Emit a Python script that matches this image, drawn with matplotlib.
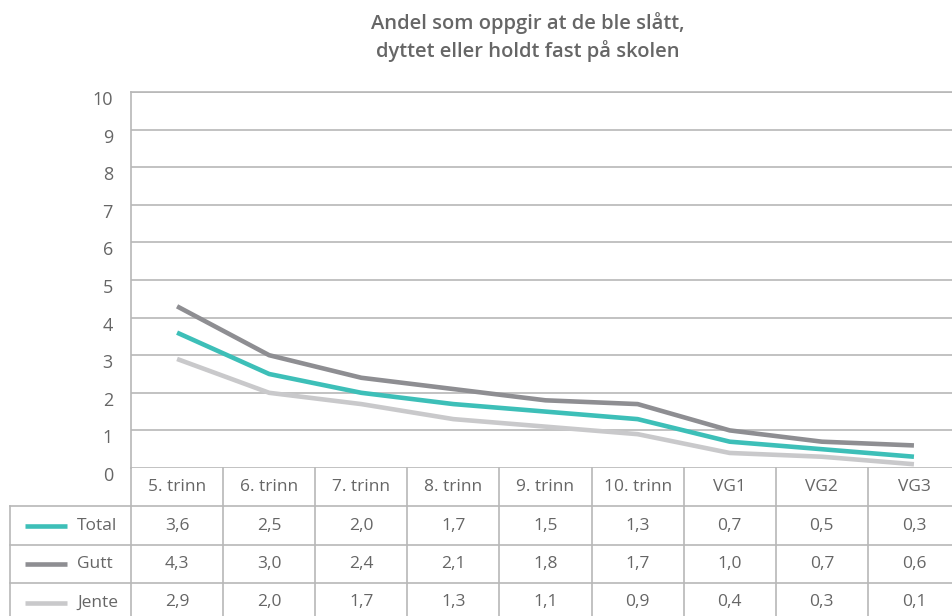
import matplotlib
matplotlib.use("Agg")
import matplotlib.pyplot as plt
from matplotlib.transforms import blended_transform_factory, ScaledTranslation
from matplotlib.lines import Line2D

plt.rcParams['font.family'] = ['Open Sans', 'DejaVu Sans']

categories = ["5. trinn", "6. trinn", "7. trinn", "8. trinn", "9. trinn", "10. trinn", "VG1", "VG2", "VG3"]
series_names = ["Total", "Gutt", "Jente"]
total = [3.6, 2.5, 2.0, 1.7, 1.5, 1.3, 0.7, 0.5, 0.3]
gutt = [4.3, 3.0, 2.4, 2.1, 1.8, 1.7, 1.0, 0.7, 0.6]
jente = [2.9, 2.0, 1.7, 1.3, 1.1, 0.9, 0.4, 0.3, 0.1]
yticks = list(range(0, 11))
title = "Andel som oppgir at de ble slått,\ndyttet eller holdt fast på skolen"

colors = {"Total": "#3dbfb8", "Gutt": "#8e8e92", "Jente": "#c9c9cb"}
text_color = "#666666"
grid_color = "#b8b8b8"

W, H = 952, 616
fig = plt.figure(figsize=(W / 100, H / 100), dpi=100)
left_px, right_px, top_px, bottom_px = 131, 960, 92, 468
ax = fig.add_axes([left_px / W, 1 - bottom_px / H, (right_px - left_px) / W, (bottom_px - top_px) / H])

x = list(range(len(categories)))
data = {"Total": total, "Gutt": gutt, "Jente": jente}
for name in ["Jente", "Gutt", "Total"]:
    ax.plot(x, data[name], color=colors[name], lw=3.3, solid_capstyle='butt', zorder=3)

ax.set_xlim(-0.5, len(categories) - 0.5)
ax.set_ylim(0, 10)
ax.set_yticks(yticks)
ax.set_yticklabels([str(v) for v in yticks], fontsize=13, color=text_color)
ax.tick_params(axis='y', length=0, pad=13)
off = ScaledTranslation(0, -6 / 100, fig.dpi_scale_trans)
for lab in ax.get_yticklabels():
    lab.set_transform(lab.get_transform() + off)
ax.set_xticks([])
for s in ["right", "bottom"]:
    ax.spines[s].set_visible(False)
ax.spines["left"].set_color(grid_color)
ax.spines["top"].set_color(grid_color)
ax.spines["left"].set_linewidth(1.2)
ax.spines["top"].set_linewidth(1.2)
ax.yaxis.grid(True, color=grid_color, lw=1.2)
ax.set_axisbelow(True)

# Table below the plot
tr = blended_transform_factory(ax.transData, ax.transAxes)
ah = bottom_px - top_px
def yf(py):
    return (bottom_px - py) / ah

row_edges = [468, 506, 545, 583, 622]
unit_px = (right_px - left_px) / len(categories)
left_data = -0.5 - (left_px - 10) / unit_px
lkw = dict(color=grid_color, lw=1.2, transform=tr, clip_on=False)

for py in row_edges[1:]:
    ax.add_line(Line2D([left_data, len(categories) - 0.5], [yf(py), yf(py)], **lkw))
for k in range(len(categories) + 1):
    xv = k - 0.5
    ax.add_line(Line2D([xv, xv], [yf(468), yf(622)], **lkw))
ax.add_line(Line2D([left_data, left_data], [yf(506), yf(622)], **lkw))

for i, c in enumerate(categories):
    ax.text(i, yf((468 + 506) / 2), c, transform=tr, ha='center', va='center',
            fontsize=12.5, color=text_color, clip_on=False)

for r, name in enumerate(series_names):
    yc = yf((row_edges[r + 1] + row_edges[r + 2]) / 2)
    x0 = -0.5 - (left_px - 25) / unit_px
    x1 = -0.5 - (left_px - 67) / unit_px
    ax.add_line(Line2D([x0, x1], [yc, yc], color=colors[name], lw=3.3, transform=tr, clip_on=False,
                       solid_capstyle='butt'))
    xt = -0.5 - (left_px - 77) / unit_px
    ax.text(xt, yc, name, transform=tr, ha='left', va='center', fontsize=12.5,
            color=text_color, clip_on=False)
    for i, v in enumerate(data[name]):
        ax.text(i, yc, f"{v:.1f}".replace('.', ','), transform=tr, ha='center', va='center',
                fontsize=12.5, color=text_color, clip_on=False)

fig.text(528 / W, 1 - 37 / H, title, ha='center', va='center', fontsize=14.5,
         fontweight='semibold', color=text_color, linespacing=1.3)

fig.savefig("out.png", dpi=100)
